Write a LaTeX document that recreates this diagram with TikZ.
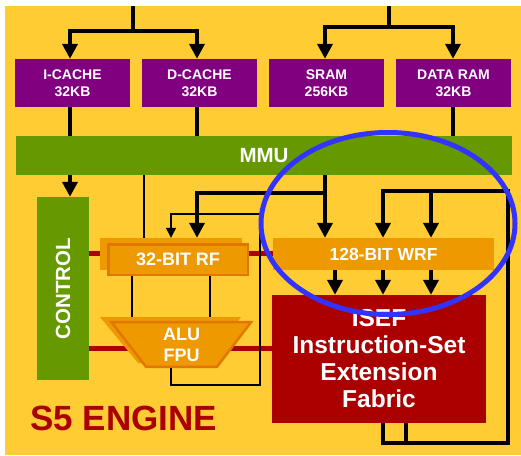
\documentclass[tikz,border=0pt]{standalone}
\usepackage{fontspec}
\setmainfont{Liberation Sans}
\usetikzlibrary{arrows.meta,calc}
\definecolor{bgyel}{HTML}{FFCC33}
\definecolor{purp}{HTML}{800080}
\definecolor{mmugreen}{HTML}{669900}
\definecolor{orng}{HTML}{EE9900}
\definecolor{orngdark}{HTML}{E07800}
\definecolor{dred}{HTML}{AA0000}
\definecolor{ringblue}{HTML}{3333FF}
\begin{document}
\begin{tikzpicture}[x=1pt,y=-1pt,
  memblk/.style={fill=purp, text=white, font=\bfseries\fontsize{14}{17}\selectfont, align=center, minimum width=115pt, minimum height=48pt, inner sep=0pt},
  thk/.style={line width=4pt},
  thkarrow/.style={line width=4pt, -{Triangle[width=15pt,length=15pt]}},
  thn/.style={line width=1.2pt},
  thnarrow/.style={line width=1.2pt, -{Triangle[width=10pt,length=10pt]}},
  redbus/.style={line width=5pt, draw=dred},
  wtext/.style={text=white, font=\bfseries\fontsize{#1}{#1}\selectfont},
]
\useasboundingbox (0,0) rectangle (521,455);
\fill[white] (0,0) rectangle (521,455);
\fill[bgyel] (5,6) rectangle (521,455);

% nodes
\node[memblk] (icache) at (72.5,83) {I-CACHE\\32KB};
\node[memblk] (dcache) at (199.5,83) {D-CACHE\\32KB};
\node[memblk] (sram) at (326.5,83) {SRAM\\256KB};
\node[memblk] (dram) at (453.5,83) {DATA RAM\\32KB};
\node[fill=mmugreen, minimum width=496pt, minimum height=39pt, inner sep=0pt, wtext=20.5] (mmu) at (264,155.5) {MMU};
\node[fill=mmugreen, minimum width=52pt, minimum height=183pt, inner sep=0pt] (ctrl) at (63,288.5) {};
\node[rotate=90, wtext=20.5, inner sep=0pt] (ctrltext) at (ctrl.center) {CONTROL};

% coordinates
\coordinate (topL) at (133,6);
\coordinate (jL) at (133,31);
\coordinate (topR) at (389,6);
\coordinate (jR) at (389,27);
\coordinate (xIC) at (70,0);
\coordinate (xDC) at (197,0);
\coordinate (xSR) at (325,0);
\coordinate (xDR) at (453,0);
\coordinate (xMT) at (144,0);
\coordinate (xRF1) at (171,0);
\coordinate (xW0) at (335,0);
\coordinate (xW2) at (383,0);
\coordinate (xW3) at (431,0);
\coordinate (xI2) at (406,0);
\coordinate (xLoop) at (508,0);
\coordinate (xTL) at (260,0);
\coordinate (xA1) at (132,0);
\coordinate (xA2) at (210,0);
\coordinate (yBus) at (0,193);
\coordinate (yThin) at (0,214);
\coordinate (yTop) at (0,191);
\coordinate (yBot) at (0,443);
\coordinate (yAluLoop) at (0,385);
\coordinate (yR1) at (0,253);
\coordinate (yR2) at (0,348);

% nodes in the engine
\node[fill=orng, minimum width=221pt, minimum height=32pt, inner sep=0pt, wtext=17.5] (wrf) at (383.5,254) {128-BIT WRF};
\node[fill=dred, minimum width=214pt, minimum height=128pt, inner sep=0pt, align=center, text=white, font=\bfseries\fontsize{24.5}{27}\selectfont] (isef) at (379,359) {ISEF\\Instruction-Set\\Extension\\Fabric};

% red buses
\draw[redbus] (ctrl.east |- yR1) -- (wrf.west |- yR1);
\draw[redbus] (ctrl.east |- yR2) -- (isef.west |- yR2);

\node[fill=orng, minimum width=142pt, minimum height=32pt, inner sep=0pt] (rfback) at (171,254) {};
\node[fill=orng, draw=orngdark, line width=2.5pt, minimum width=139.5pt, minimum height=30.5pt, inner sep=0pt, wtext=18] (rf) at (178,259.5) {32-BIT RF};
\node[minimum width=143pt, minimum height=47pt, inner sep=0pt] (alu) at (181.5,344.5) {};

% RF to ALU
\draw[thn] (xA1 |- rf.south) -- (xA1 |- alu.north);
\draw[thn] (xA2 |- rf.south) -- (xA2 |- alu.north);

% ALU shapes
\fill[orng] (100,317) -- (241,317) -- (206,363) -- (138,363) -- cycle;
\filldraw[fill=orng, draw=orngdark, line width=2.5pt] (111.5,322.2) -- (251,322.2) -- (217,366.8) -- (146,366.8) -- cycle;
\node[align=center, text=white, font=\bfseries\fontsize{18}{21}\selectfont, inner sep=0pt] (alutext) at (alu.center) {ALU\\FPU};

% top trees
\draw[thk] (topL) -- (jL);
\draw[thkarrow] (jL) -| (xIC |- icache.north);
\draw[thkarrow] (jL) -| (xDC |- dcache.north);
\draw[thk] (topR) -- (jR);
\draw[thkarrow] (jR) -| (xSR |- sram.north);
\draw[thkarrow] (jR) -| (xDR |- dram.north);

% memories to MMU
\draw[thk] (xIC |- icache.south) -- (xIC |- mmu.north);
\draw[thk] (xDC |- dcache.south) -- (xDC |- mmu.north);
\draw[thk] (xDR |- dram.south) -- (xDR |- mmu.north);

% MMU down
\draw[thkarrow] (xIC |- mmu.south) -- (xIC |- ctrl.north);
\draw[thn] (xMT |- mmu.south) -- (xMT |- rfback.north);
\draw[thkarrow] (xSR |- mmu.south) -- (xSR |- wrf.north);
\draw[thkarrow] (xSR |- yBus) -| (xDC |- rfback.north);

% thin ALU loop
\draw[thnarrow] (xRF1 |- alu.south) -- (xRF1 |- yAluLoop) -| (xTL |- yThin) -| (xRF1 |- rfback.north);

% ISEF loop
\draw[thkarrow] (xW2 |- isef.south) -- (xW2 |- yBot) -| (xLoop |- yTop) -| (xW2 |- wrf.north);
\draw[thk] (xI2 |- isef.south) -- (xI2 |- yBot);
\draw[thkarrow] (xW3 |- yTop) -- (xW3 |- wrf.north);

% WRF to ISEF
\draw[thkarrow] (xW0 |- wrf.south) -- (xW0 |- isef.north);
\draw[thkarrow] (xW2 |- wrf.south) -- (xW2 |- isef.north);
\draw[thkarrow] (xW3 |- wrf.south) -- (xW3 |- isef.north);

% title
\node[anchor=base west, text=dred, font=\bfseries\fontsize{35}{40}\selectfont, inner sep=0pt] (title) at (30,430) {S5 ENGINE};

% highlight ring
\draw[ringblue, line width=5pt] (388,223.5) ellipse [x radius=127, y radius=91];
\end{tikzpicture}
\end{document}
